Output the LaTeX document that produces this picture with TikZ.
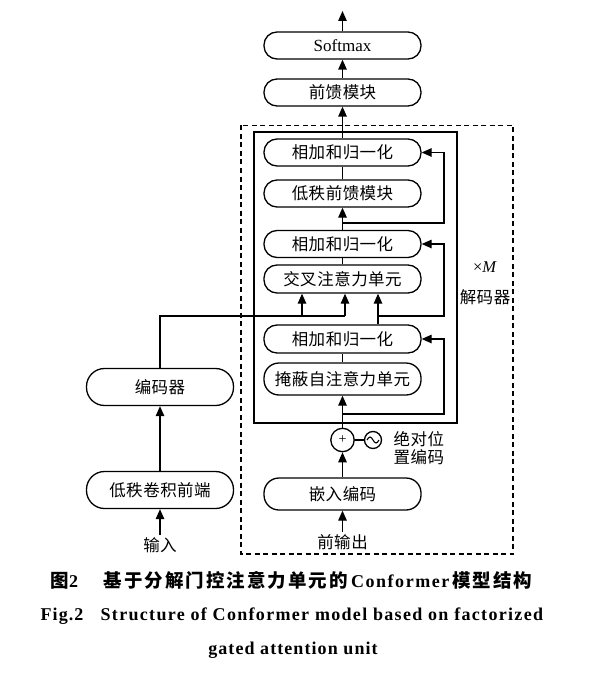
\documentclass[tikz,border=0pt]{standalone}
\usepackage{fontspec}
\setmainfont{Liberation Serif}
\newfontfamily\cjk{Noto Sans CJK SC}[LetterSpace=3]
\newfontfamily\cjkcap{Noto Sans CJK SC}[LetterSpace=11]
\newfontfamily\latcap{Liberation Serif}[LetterSpace=6]
\newfontfamily\latcapw{Liberation Serif}[LetterSpace=8.5]
\newfontfamily\latcapm{Liberation Serif}[LetterSpace=7.3]
\usetikzlibrary{arrows.meta,calc}
\begin{document}
\begin{tikzpicture}[x=1pt,y=-1pt,
  line width=1.3pt,
  box/.style={draw, rounded corners=13pt, minimum width=157pt, minimum height=27pt, inner sep=0pt, font=\cjk\fontsize{16.5}{18}\selectfont},
  lbox/.style={box, minimum width=147pt, minimum height=37pt, rounded corners=18pt},
  arr/.style={-{Triangle[length=10pt,width=8.5pt]}},
  lbl/.style={inner sep=0pt, font=\cjk\fontsize{16.5}{18}\selectfont},
  capnode/.style={inner sep=0pt},
  capc/.style={font=\cjkcap\bfseries\fontsize{18.5}{20}\selectfont},
  capl/.style={font=\latcap\bfseries\fontsize{18}{20}\selectfont},
  caplm/.style={font=\latcapm\bfseries\fontsize{18}{20}\selectfont},
]
\useasboundingbox (0,0) rectangle (589,679);

% frames
\draw[dash pattern=on 5pt off 3.5pt] (241,125.5) rectangle (513,554);
\draw (254,132) rectangle (457,423);

% right column
\node[box,font=\fontsize{17}{20}\selectfont] (sm) at (342.5,45.5) {Softmax};
\node[box] (ff) at (342.5,92.5) {前馈模块};
\node[box] (an1) at (342.5,152.5) {相加和归一化};
\node[box] (lff) at (342.5,193.5) {低秩前馈模块};
\node[box] (an2) at (342.5,244) {相加和归一化};
\node[box,minimum height=28pt] (ca) at (342.5,279) {交叉注意力单元};
\node[box,minimum height=28pt] (an3) at (342.5,339) {相加和归一化};
\node[box,minimum height=32pt,rounded corners=15pt] (msa) at (342.5,379) {掩蔽自注意力单元};
\node[draw,circle,minimum size=23.4pt,inner sep=0pt,font=\fontsize{14}{14}\selectfont] (plus) at (342.5,440) {+};
\node[draw,circle,minimum size=17pt,inner sep=0pt] (tl) at (373,440) {};
\node[box,minimum height=32pt,rounded corners=15pt] (emb) at (342.5,494) {嵌入编码};
\node[lbl,inner sep=2pt] (po) at (342.5,542) {前输出};

% left column
\node[lbox] (enc) at (160,387) {编码器};
\node[lbox] (lcf) at (160,490) {低秩卷积前端};
\node[lbl,inner sep=2pt] (inp) at (160,545) {输入};

% labels
\node[lbl,font=\fontsize{16.5}{18}\selectfont] (xm) at (485,267) {×\textit{M}};
\node[lbl] (dec) at (485,297) {解码器};
\node[lbl,anchor=west,align=left,font=\cjk\fontsize{16.5}{18.5}\selectfont] (ape) at (393,448) {绝对位\\置编码};

% connectors
\coordinate (top) at (342.5,11);
\draw[arr] (sm.north) -- (top);
\draw[arr] (ff.north) -- (sm.south);
\draw[arr] (an1.north) -- (ff.south);
\draw (lff.north) -- (an1.south);
\draw[arr] (an2.north) -- (lff.south);
\coordinate (r1a) at (342.5,223);
\coordinate (r1b) at (444,223);
\draw[arr] (r1a) -- (r1b) |- (an1.east);
\draw (ca.north) -- (an2.south);
\coordinate (r2a) at (378,316);
\coordinate (r2b) at (444,316);
\draw[arr] (r2a) -- (r2b) |- (an2.east);
\draw[arr] (an3.north -| r2a) -- (ca.south -| r2a);
\coordinate (e1) at (302,316);
\coordinate (e2) at (345,316);
\draw (enc.north) |- (e2);
\draw[arr] (e1) -- (e1 |- ca.south);
\draw[arr] (e2) -- (e2 |- ca.south);
\draw (msa.north) -- (an3.south);
\draw[arr] (plus.north) -- (msa.south);
\coordinate (r3a) at (342.5,414);
\coordinate (r3b) at (444,414);
\draw[arr] (r3a) -- (r3b) |- (an3.east);
\draw[arr] (emb.north) -- (plus.south);
\draw[arr] (po.north) -- (emb.south);
\draw (plus.east) -- (tl.west);
\draw[line width=1.1pt] ($(tl.center)+(-6pt,0pt)$) sin ++(3pt,3pt) cos ++(3pt,-3pt) sin ++(3pt,-3pt) cos ++(3pt,3pt);
\draw[arr] (lcf.north) -- (enc.south);
\draw[arr] (inp.north) -- (lcf.south);

% caption
\node[capnode,capc,anchor=base west] (c1a) at (50,587) {图{\latcap\bfseries\fontsize{18}{20}\selectfont 2}};
\node[capnode,capc,anchor=base west] (c1b) at (103,587) {基于分解门控注意力单元的\,{\latcapw\bfseries\fontsize{18}{20}\selectfont Conformer}\,模型结构};
\node[capnode,capl,anchor=base west] (c2a) at (40,620) {Fig.2};
\node[capnode,caplm,anchor=base west] (c2b) at (100,620) {Structure of Conformer model based on factorized};
\node[capnode,capl,anchor=base] (c3) at (293,654) {gated attention unit};
\end{tikzpicture}
\end{document}
